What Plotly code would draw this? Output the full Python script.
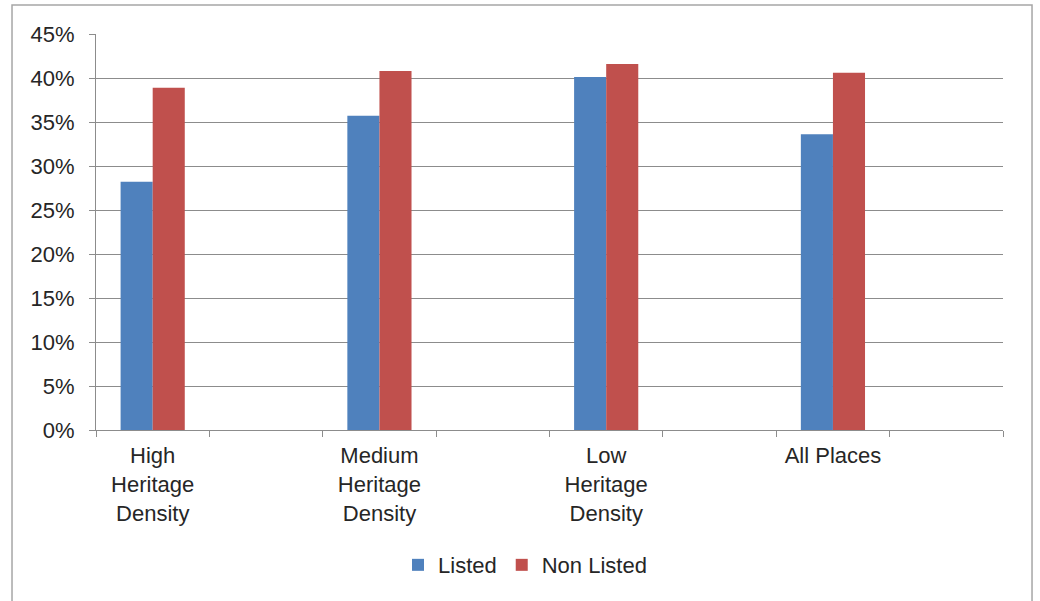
import plotly.graph_objects as go

# Share of places, by heritage density band
categories = ["High<br>Heritage<br>Density", "Medium<br>Heritage<br>Density",
              "Low<br>Heritage<br>Density", "All Places"]
listed = [0.282, 0.357, 0.401, 0.336]
non_listed = [0.389, 0.408, 0.416, 0.406]
y_ticks = [0.00, 0.05, 0.10, 0.15, 0.20, 0.25, 0.30, 0.35, 0.40, 0.45]

# Each band is followed by an empty slot, as in the original workbook layout
spacers = [" " * (i + 1) for i in range(len(categories))]
category_order = [c for pair in zip(categories, spacers) for c in pair]

BLUE = "#4F81BD"
RED = "#C0504D"
GRID = "#8C8C8C"
TEXT = "#262626"
FONT = "Liberation Sans, Arial, sans-serif"
BAR_W = 0.283

fig = go.Figure()
fig.add_trace(go.Bar(x=categories, y=listed, name="Listed",
                     marker=dict(color=BLUE, line=dict(width=0)),
                     width=BAR_W, offset=-BAR_W))
fig.add_trace(go.Bar(x=categories, y=non_listed, name="Non Listed",
                     marker=dict(color=RED, line=dict(width=0)),
                     width=BAR_W, offset=0))

fig.update_layout(
    width=1040, height=601,
    margin=dict(l=96, r=37, t=34, b=171),
    paper_bgcolor="white", plot_bgcolor="white",
    font=dict(family=FONT, size=22, color=TEXT),
    showlegend=True,
    legend=dict(orientation="h", x=0.473, xanchor="center",
                y=-0.341, yanchor="middle",
                font=dict(family=FONT, size=22, color=TEXT),
                itemwidth=30, traceorder="normal"),
    xaxis=dict(type="category", categoryorder="array",
               categoryarray=category_order, range=[-0.5, 7.5],
               tickson="boundaries", ticks="outside", ticklen=6,
               tickcolor=GRID, showline=True, linecolor=GRID, linewidth=1,
               showgrid=False, ticklabelstandoff=6,
               tickfont=dict(family=FONT, size=22, color=TEXT)),
    yaxis=dict(range=[0, 0.45], tickvals=y_ticks, tickformat=".0%",
               ticks="outside", ticklen=6, tickcolor=GRID,
               showline=True, linecolor=GRID, linewidth=1,
               showgrid=True, gridcolor=GRID, gridwidth=1,
               zeroline=False, ticklabelstandoff=10,
               tickfont=dict(family=FONT, size=22, color=TEXT)),
    shapes=[dict(type="rect", xref="paper", yref="paper",
                 x0=-0.0926, x1=1.032, y0=-0.44, y1=1.073,
                 line=dict(color="#A6A6A6", width=1.5),
                 fillcolor="rgba(0,0,0,0)", layer="below")],
)

fig.write_html("out.html")
